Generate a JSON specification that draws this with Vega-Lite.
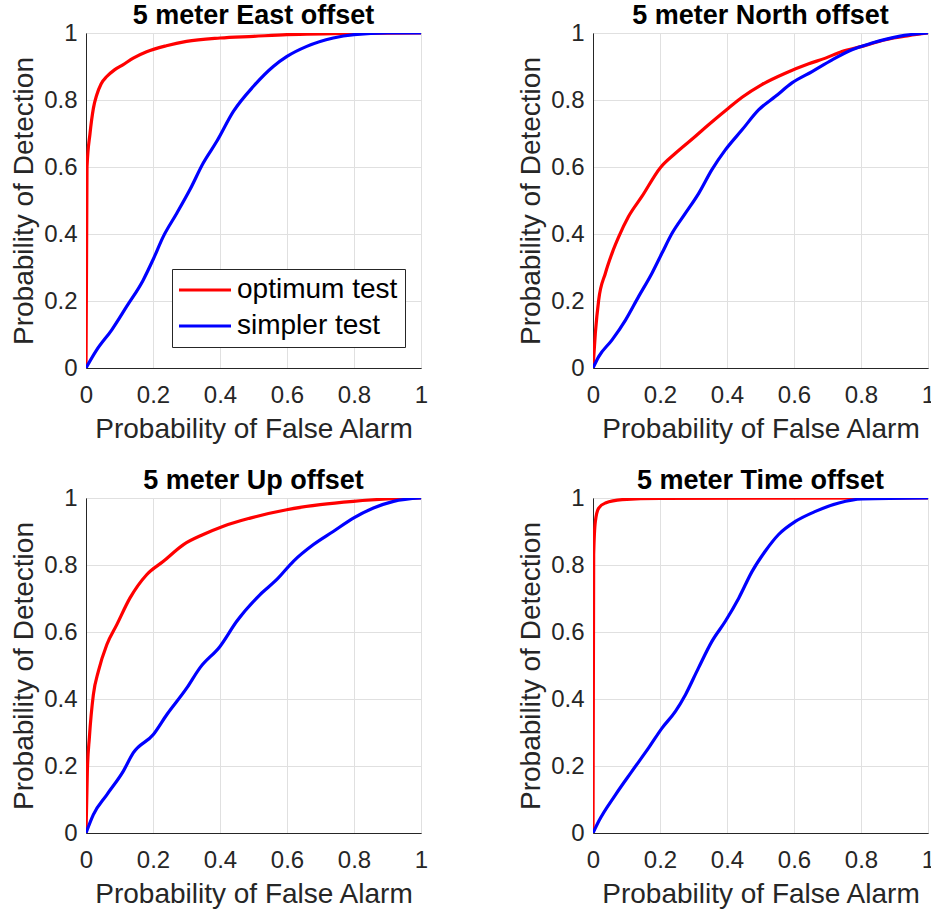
{
  "$schema": "https://vega.github.io/schema/vega-lite/v6.json",
  "background": "white",
  "padding": {"left": 10, "top": 1, "right": 2, "bottom": 2},
  "autosize": {"type": "pad"},
  "config": {
    "font": "Liberation Sans",
    "view": {"stroke": "#262626", "strokeWidth": 1},
    "axis": {
      "domainColor": "#262626", "domainWidth": 1,
      "gridColor": "#e0e0e0", "gridWidth": 1,
      "ticks": false,
      "labelColor": "#262626", "labelFontSize": 24, "labelFont": "Liberation Sans",
      "titleColor": "#262626", "titleFontSize": 28, "titleFont": "Liberation Sans", "titleFontWeight": "normal",
      "labelFlush": false, "labelOverlap": false, "format": "~g"
    },
    "axisX": {"labelPadding": 15, "titlePadding": 8},
    "axisY": {"labelPadding": 9, "titlePadding": 5},
    "title": {"fontSize": 27, "fontWeight": "bold", "color": "#000000", "font": "Liberation Sans", "offset": -9}
  },
  "datasets": {
    "east": [
      {"test": "optimum test", "i": 0, "x": 0, "y": 0},
      {"test": "optimum test", "i": 1, "x": 0.003, "y": 0.6},
      {"test": "optimum test", "i": 2, "x": 0.012, "y": 0.7},
      {"test": "optimum test", "i": 3, "x": 0.022, "y": 0.775},
      {"test": "optimum test", "i": 4, "x": 0.032, "y": 0.815},
      {"test": "optimum test", "i": 5, "x": 0.045, "y": 0.848},
      {"test": "optimum test", "i": 6, "x": 0.062, "y": 0.87},
      {"test": "optimum test", "i": 7, "x": 0.085, "y": 0.89},
      {"test": "optimum test", "i": 8, "x": 0.11, "y": 0.905},
      {"test": "optimum test", "i": 9, "x": 0.141, "y": 0.925},
      {"test": "optimum test", "i": 10, "x": 0.181, "y": 0.944},
      {"test": "optimum test", "i": 11, "x": 0.24, "y": 0.962},
      {"test": "optimum test", "i": 12, "x": 0.3, "y": 0.975},
      {"test": "optimum test", "i": 13, "x": 0.4, "y": 0.985},
      {"test": "optimum test", "i": 14, "x": 0.5, "y": 0.99},
      {"test": "optimum test", "i": 15, "x": 0.6, "y": 0.995},
      {"test": "optimum test", "i": 16, "x": 0.8, "y": 0.999},
      {"test": "optimum test", "i": 17, "x": 1, "y": 1},
      {"test": "simpler test", "i": 0, "x": 0, "y": 0},
      {"test": "simpler test", "i": 1, "x": 0.032, "y": 0.054},
      {"test": "simpler test", "i": 2, "x": 0.077, "y": 0.114},
      {"test": "simpler test", "i": 3, "x": 0.121, "y": 0.183},
      {"test": "simpler test", "i": 4, "x": 0.171, "y": 0.263},
      {"test": "simpler test", "i": 5, "x": 0.2, "y": 0.323},
      {"test": "simpler test", "i": 6, "x": 0.231, "y": 0.393},
      {"test": "simpler test", "i": 7, "x": 0.271, "y": 0.462},
      {"test": "simpler test", "i": 8, "x": 0.31, "y": 0.532},
      {"test": "simpler test", "i": 9, "x": 0.35, "y": 0.612},
      {"test": "simpler test", "i": 10, "x": 0.39, "y": 0.676},
      {"test": "simpler test", "i": 11, "x": 0.44, "y": 0.766},
      {"test": "simpler test", "i": 12, "x": 0.5, "y": 0.841},
      {"test": "simpler test", "i": 13, "x": 0.559, "y": 0.9},
      {"test": "simpler test", "i": 14, "x": 0.6, "y": 0.93},
      {"test": "simpler test", "i": 15, "x": 0.659, "y": 0.96},
      {"test": "simpler test", "i": 16, "x": 0.738, "y": 0.985},
      {"test": "simpler test", "i": 17, "x": 0.8, "y": 0.995},
      {"test": "simpler test", "i": 18, "x": 0.9, "y": 1},
      {"test": "simpler test", "i": 19, "x": 1, "y": 1}
    ],
    "north": [
      {"test": "optimum test", "i": 0, "x": 0, "y": 0},
      {"test": "optimum test", "i": 1, "x": 0.007, "y": 0.104},
      {"test": "optimum test", "i": 2, "x": 0.017, "y": 0.203},
      {"test": "optimum test", "i": 3, "x": 0.037, "y": 0.283},
      {"test": "optimum test", "i": 4, "x": 0.057, "y": 0.343},
      {"test": "optimum test", "i": 5, "x": 0.077, "y": 0.392},
      {"test": "optimum test", "i": 6, "x": 0.106, "y": 0.452},
      {"test": "optimum test", "i": 7, "x": 0.146, "y": 0.512},
      {"test": "optimum test", "i": 8, "x": 0.201, "y": 0.598},
      {"test": "optimum test", "i": 9, "x": 0.246, "y": 0.641},
      {"test": "optimum test", "i": 10, "x": 0.305, "y": 0.691},
      {"test": "optimum test", "i": 11, "x": 0.345, "y": 0.726},
      {"test": "optimum test", "i": 12, "x": 0.405, "y": 0.776},
      {"test": "optimum test", "i": 13, "x": 0.445, "y": 0.808},
      {"test": "optimum test", "i": 14, "x": 0.504, "y": 0.846},
      {"test": "optimum test", "i": 15, "x": 0.574, "y": 0.88},
      {"test": "optimum test", "i": 16, "x": 0.644, "y": 0.908},
      {"test": "optimum test", "i": 17, "x": 0.694, "y": 0.925},
      {"test": "optimum test", "i": 18, "x": 0.743, "y": 0.945},
      {"test": "optimum test", "i": 19, "x": 0.803, "y": 0.96},
      {"test": "optimum test", "i": 20, "x": 0.873, "y": 0.98},
      {"test": "optimum test", "i": 21, "x": 0.942, "y": 0.992},
      {"test": "optimum test", "i": 22, "x": 1, "y": 1},
      {"test": "simpler test", "i": 0, "x": 0, "y": 0},
      {"test": "simpler test", "i": 1, "x": 0.017, "y": 0.034},
      {"test": "simpler test", "i": 2, "x": 0.057, "y": 0.084},
      {"test": "simpler test", "i": 3, "x": 0.097, "y": 0.143},
      {"test": "simpler test", "i": 4, "x": 0.136, "y": 0.213},
      {"test": "simpler test", "i": 5, "x": 0.176, "y": 0.283},
      {"test": "simpler test", "i": 6, "x": 0.206, "y": 0.343},
      {"test": "simpler test", "i": 7, "x": 0.236, "y": 0.402},
      {"test": "simpler test", "i": 8, "x": 0.276, "y": 0.462},
      {"test": "simpler test", "i": 9, "x": 0.316, "y": 0.522},
      {"test": "simpler test", "i": 10, "x": 0.355, "y": 0.592},
      {"test": "simpler test", "i": 11, "x": 0.395, "y": 0.651},
      {"test": "simpler test", "i": 12, "x": 0.445, "y": 0.711},
      {"test": "simpler test", "i": 13, "x": 0.495, "y": 0.771},
      {"test": "simpler test", "i": 14, "x": 0.545, "y": 0.811},
      {"test": "simpler test", "i": 15, "x": 0.594, "y": 0.851},
      {"test": "simpler test", "i": 16, "x": 0.654, "y": 0.885},
      {"test": "simpler test", "i": 17, "x": 0.714, "y": 0.92},
      {"test": "simpler test", "i": 18, "x": 0.773, "y": 0.95},
      {"test": "simpler test", "i": 19, "x": 0.833, "y": 0.97},
      {"test": "simpler test", "i": 20, "x": 0.913, "y": 0.99},
      {"test": "simpler test", "i": 21, "x": 1, "y": 1}
    ],
    "up": [
      {"test": "optimum test", "i": 0, "x": 0, "y": 0},
      {"test": "optimum test", "i": 1, "x": 0.004, "y": 0.184},
      {"test": "optimum test", "i": 2, "x": 0.01, "y": 0.284},
      {"test": "optimum test", "i": 3, "x": 0.022, "y": 0.413},
      {"test": "optimum test", "i": 4, "x": 0.037, "y": 0.483},
      {"test": "optimum test", "i": 5, "x": 0.062, "y": 0.562},
      {"test": "optimum test", "i": 6, "x": 0.092, "y": 0.622},
      {"test": "optimum test", "i": 7, "x": 0.131, "y": 0.701},
      {"test": "optimum test", "i": 8, "x": 0.181, "y": 0.771},
      {"test": "optimum test", "i": 9, "x": 0.231, "y": 0.811},
      {"test": "optimum test", "i": 10, "x": 0.291, "y": 0.861},
      {"test": "optimum test", "i": 11, "x": 0.35, "y": 0.891},
      {"test": "optimum test", "i": 12, "x": 0.41, "y": 0.916},
      {"test": "optimum test", "i": 13, "x": 0.49, "y": 0.94},
      {"test": "optimum test", "i": 14, "x": 0.599, "y": 0.965},
      {"test": "optimum test", "i": 15, "x": 0.699, "y": 0.98},
      {"test": "optimum test", "i": 16, "x": 0.798, "y": 0.99},
      {"test": "optimum test", "i": 17, "x": 0.898, "y": 0.997},
      {"test": "optimum test", "i": 18, "x": 1, "y": 1},
      {"test": "simpler test", "i": 0, "x": 0, "y": 0},
      {"test": "simpler test", "i": 1, "x": 0.022, "y": 0.055},
      {"test": "simpler test", "i": 2, "x": 0.062, "y": 0.114},
      {"test": "simpler test", "i": 3, "x": 0.111, "y": 0.184},
      {"test": "simpler test", "i": 4, "x": 0.141, "y": 0.239},
      {"test": "simpler test", "i": 5, "x": 0.201, "y": 0.294},
      {"test": "simpler test", "i": 6, "x": 0.241, "y": 0.353},
      {"test": "simpler test", "i": 7, "x": 0.301, "y": 0.433},
      {"test": "simpler test", "i": 8, "x": 0.34, "y": 0.493},
      {"test": "simpler test", "i": 9, "x": 0.4, "y": 0.557},
      {"test": "simpler test", "i": 10, "x": 0.45, "y": 0.632},
      {"test": "simpler test", "i": 11, "x": 0.519, "y": 0.711},
      {"test": "simpler test", "i": 12, "x": 0.569, "y": 0.756},
      {"test": "simpler test", "i": 13, "x": 0.619, "y": 0.811},
      {"test": "simpler test", "i": 14, "x": 0.679, "y": 0.861},
      {"test": "simpler test", "i": 15, "x": 0.738, "y": 0.9},
      {"test": "simpler test", "i": 16, "x": 0.798, "y": 0.94},
      {"test": "simpler test", "i": 17, "x": 0.858, "y": 0.97},
      {"test": "simpler test", "i": 18, "x": 0.918, "y": 0.99},
      {"test": "simpler test", "i": 19, "x": 1, "y": 1}
    ],
    "time": [
      {"test": "optimum test", "i": 0, "x": 0, "y": 0},
      {"test": "optimum test", "i": 1, "x": 0.002, "y": 0.831},
      {"test": "optimum test", "i": 2, "x": 0.007, "y": 0.93},
      {"test": "optimum test", "i": 3, "x": 0.017, "y": 0.97},
      {"test": "optimum test", "i": 4, "x": 0.037, "y": 0.985},
      {"test": "optimum test", "i": 5, "x": 0.087, "y": 0.995},
      {"test": "optimum test", "i": 6, "x": 0.2, "y": 0.999},
      {"test": "optimum test", "i": 7, "x": 1, "y": 1},
      {"test": "simpler test", "i": 0, "x": 0, "y": 0},
      {"test": "simpler test", "i": 1, "x": 0.017, "y": 0.035},
      {"test": "simpler test", "i": 2, "x": 0.067, "y": 0.114},
      {"test": "simpler test", "i": 3, "x": 0.116, "y": 0.184},
      {"test": "simpler test", "i": 4, "x": 0.166, "y": 0.254},
      {"test": "simpler test", "i": 5, "x": 0.206, "y": 0.313},
      {"test": "simpler test", "i": 6, "x": 0.246, "y": 0.363},
      {"test": "simpler test", "i": 7, "x": 0.276, "y": 0.413},
      {"test": "simpler test", "i": 8, "x": 0.315, "y": 0.493},
      {"test": "simpler test", "i": 9, "x": 0.355, "y": 0.572},
      {"test": "simpler test", "i": 10, "x": 0.395, "y": 0.632},
      {"test": "simpler test", "i": 11, "x": 0.435, "y": 0.701},
      {"test": "simpler test", "i": 12, "x": 0.475, "y": 0.781},
      {"test": "simpler test", "i": 13, "x": 0.514, "y": 0.841},
      {"test": "simpler test", "i": 14, "x": 0.554, "y": 0.891},
      {"test": "simpler test", "i": 15, "x": 0.604, "y": 0.93},
      {"test": "simpler test", "i": 16, "x": 0.664, "y": 0.96},
      {"test": "simpler test", "i": 17, "x": 0.734, "y": 0.985},
      {"test": "simpler test", "i": 18, "x": 0.803, "y": 0.997},
      {"test": "simpler test", "i": 19, "x": 1, "y": 1}
    ]
  },
  "columns": 2,
  "spacing": {"row": 130, "column": 172},
  "bounds": "flush",
  "resolve": {"scale": {"color": "independent"}, "legend": {"color": "independent"}},
  "concat": [
    {
      "title": "5 meter East offset",
      "width": 335, "height": 335,
      "data": {"name": "east"},
      "mark": {"type": "line", "strokeWidth": 3.2, "clip": true, "interpolate": "monotone"},
      "encoding": {
        "x": {"field": "x", "type": "quantitative", "scale": {"domain": [0, 1], "nice": false}, "axis": {"title": "Probability of False Alarm", "values": [0, 0.2, 0.4, 0.6, 0.8, 1]}},
        "y": {"field": "y", "type": "quantitative", "scale": {"domain": [0, 1], "nice": false}, "axis": {"title": "Probability of Detection", "values": [0, 0.2, 0.4, 0.6, 0.8, 1]}},
        "color": {"field": "test", "type": "nominal", "scale": {"domain": ["optimum test", "simpler test"], "range": ["#ff0000", "#0000ff"]},
          "legend": {"title": null, "orient": "none", "legendX": 86, "legendY": 236, "direction": "vertical",
            "strokeColor": "#262626", "fillColor": "white", "padding": 7,
            "symbolType": "M-2.6,0H2.6", "symbolSize": 400, "symbolStrokeWidth": 3.2, "symbolOffset": 12,
            "labelFontSize": 28, "labelColor": "#000000", "labelFont": "Liberation Sans", "labelOffset": 18, "labelLimit": 400, "rowPadding": 8}},
        "order": {"field": "i", "type": "quantitative"}
      }
    },
    {
      "title": "5 meter North offset",
      "width": 335, "height": 335,
      "data": {"name": "north"},
      "mark": {"type": "line", "strokeWidth": 3.2, "clip": true, "interpolate": "monotone"},
      "encoding": {
        "x": {"field": "x", "type": "quantitative", "scale": {"domain": [0, 1], "nice": false}, "axis": {"title": "Probability of False Alarm", "values": [0, 0.2, 0.4, 0.6, 0.8, 1]}},
        "y": {"field": "y", "type": "quantitative", "scale": {"domain": [0, 1], "nice": false}, "axis": {"title": "Probability of Detection", "values": [0, 0.2, 0.4, 0.6, 0.8, 1]}},
        "color": {"field": "test", "type": "nominal", "scale": {"domain": ["optimum test", "simpler test"], "range": ["#ff0000", "#0000ff"]}, "legend": null},
        "order": {"field": "i", "type": "quantitative"}
      }
    },
    {
      "title": "5 meter Up offset",
      "width": 335, "height": 335,
      "data": {"name": "up"},
      "mark": {"type": "line", "strokeWidth": 3.2, "clip": true, "interpolate": "monotone"},
      "encoding": {
        "x": {"field": "x", "type": "quantitative", "scale": {"domain": [0, 1], "nice": false}, "axis": {"title": "Probability of False Alarm", "values": [0, 0.2, 0.4, 0.6, 0.8, 1]}},
        "y": {"field": "y", "type": "quantitative", "scale": {"domain": [0, 1], "nice": false}, "axis": {"title": "Probability of Detection", "values": [0, 0.2, 0.4, 0.6, 0.8, 1]}},
        "color": {"field": "test", "type": "nominal", "scale": {"domain": ["optimum test", "simpler test"], "range": ["#ff0000", "#0000ff"]}, "legend": null},
        "order": {"field": "i", "type": "quantitative"}
      }
    },
    {
      "title": "5 meter Time offset",
      "width": 335, "height": 335,
      "data": {"name": "time"},
      "mark": {"type": "line", "strokeWidth": 3.2, "clip": true, "interpolate": "monotone"},
      "encoding": {
        "x": {"field": "x", "type": "quantitative", "scale": {"domain": [0, 1], "nice": false}, "axis": {"title": "Probability of False Alarm", "values": [0, 0.2, 0.4, 0.6, 0.8, 1]}},
        "y": {"field": "y", "type": "quantitative", "scale": {"domain": [0, 1], "nice": false}, "axis": {"title": "Probability of Detection", "values": [0, 0.2, 0.4, 0.6, 0.8, 1]}},
        "color": {"field": "test", "type": "nominal", "scale": {"domain": ["optimum test", "simpler test"], "range": ["#ff0000", "#0000ff"]}, "legend": null},
        "order": {"field": "i", "type": "quantitative"}
      }
    }
  ]
}
